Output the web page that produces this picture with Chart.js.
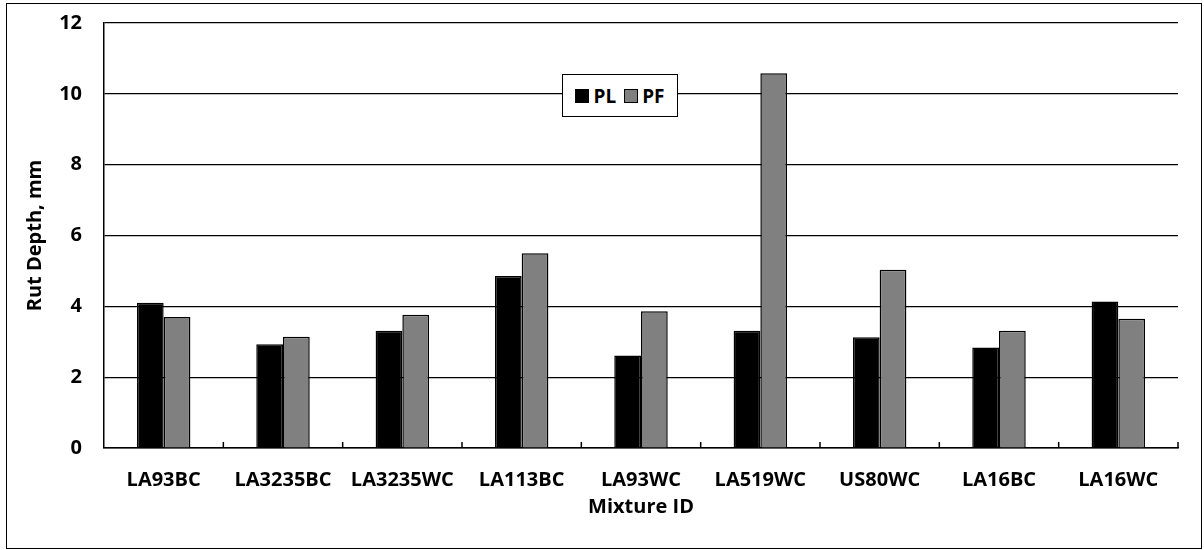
<!DOCTYPE html>
<html>
<head>
<meta charset="utf-8">
<script src="https://cdn.jsdelivr.net/npm/chart.js@4/dist/chart.umd.min.js"></script>
<style>
  body { margin: 0; background: #fff; }
  #wrap { position: absolute; left: 6px; top: 3px; width: 1194px; height: 544px; border: 1px solid #000; }
  #legend { position: absolute; left: 555px; top: 70px; width: 114px; height: 41px; border: 1px solid #000; background: #fff;
    display: flex; align-items: center; justify-content: center; gap: 8px;
    font: bold 19px "Open Sans", sans-serif; }
  .item { display: flex; align-items: center; gap: 4px; }
  .box { width: 14px; height: 14px; border: 1px solid #000; box-sizing: border-box; }
</style>
</head>
<body>
<div id="wrap">
  <canvas id="myChart"></canvas>
  <div id="legend"></div>
</div>
<script>
const mixtures = ['LA93BC', 'LA3235BC', 'LA3235WC', 'LA113BC', 'LA93WC', 'LA519WC', 'US80WC', 'LA16BC', 'LA16WC']
const pl = [4.10, 2.93, 3.31, 4.86, 2.61, 3.31, 3.13, 2.84, 4.14]
const pf = [3.70, 3.14, 3.76, 5.50, 3.86, 10.58, 5.03, 3.31, 3.65]
const yTicks = [0, 2, 4, 6, 8, 10, 12]

const font = { family: 'Open Sans', weight: 'bold', size: 20 }

// little upward ticks between the categories, like the original
const innerTicks = {
	id: 'innerTicks',
	afterDraw(chart) {
		const x = chart.scales.x
		const ctx = chart.ctx
		ctx.save()
		ctx.strokeStyle = '#000'
		ctx.lineWidth = 1.5
		for (let i = 1; i <= mixtures.length; i++) {
			const px = x.getPixelForValue(i - 0.5)
			ctx.beginPath()
			ctx.moveTo(px, chart.chartArea.bottom)
			ctx.lineTo(px, chart.chartArea.bottom - 6)
			ctx.stroke()
		}
		ctx.restore()
	}
}

const datasets = [
	{ label: 'PL', data: pl, backgroundColor: '#000000', borderColor: '#000000', borderWidth: 1.5 },
	{ label: 'PF', data: pf, backgroundColor: '#808080', borderColor: '#000000', borderWidth: 1.5 },
]

new Chart(document.getElementById('myChart'), {
	type: 'bar',
	data: { labels: mixtures, datasets: datasets },
	plugins: [innerTicks],
	options: {
		responsive: true,
		maintainAspectRatio: false,
		animation: false,
		layout: { padding: { left: 12, top: 19, right: 23, bottom: 25 } },
		datasets: { bar: { categoryPercentage: 0.448, barPercentage: 1.0 } },
		plugins: { legend: { display: false }, tooltip: { enabled: false } },
		scales: {
			x: {
				grid: { display: false, drawTicks: false },
				border: { display: true, color: '#000', width: 1.5 },
				ticks: { color: '#000', font: font, padding: 20, maxRotation: 0 },
				title: { display: true, text: 'Mixture ID', color: '#000', font: font },
				afterFit(scale) { scale.height = 75 }
			},
			y: {
				min: 0,
				max: 12,
				afterBuildTicks(scale) { scale.ticks = yTicks.map(v => ({ value: v })) },
				// invisible tick marks give the label gap without padding the top
				grid: { color: '#000', lineWidth: 1.2, drawTicks: true, tickLength: 20, tickColor: 'rgba(0,0,0,0)' },
				border: { display: true, color: '#000', width: 1.5 },
				ticks: { color: '#000', font: font, padding: 2 },
				title: { display: true, text: 'Rut Depth, mm', color: '#000', font: font },
				afterFit(scale) { scale.width = 85 }
			}
		}
	}
})

// legend as html so it can float inside the plot
const legend = document.getElementById('legend')
datasets.forEach(ds => {
	const item = document.createElement('div')
	item.className = 'item'
	const box = document.createElement('span')
	box.className = 'box'
	box.style.background = ds.backgroundColor
	const txt = document.createElement('span')
	txt.textContent = ds.label
	item.appendChild(box)
	item.appendChild(txt)
	legend.appendChild(item)
})
</script>
</body>
</html>
